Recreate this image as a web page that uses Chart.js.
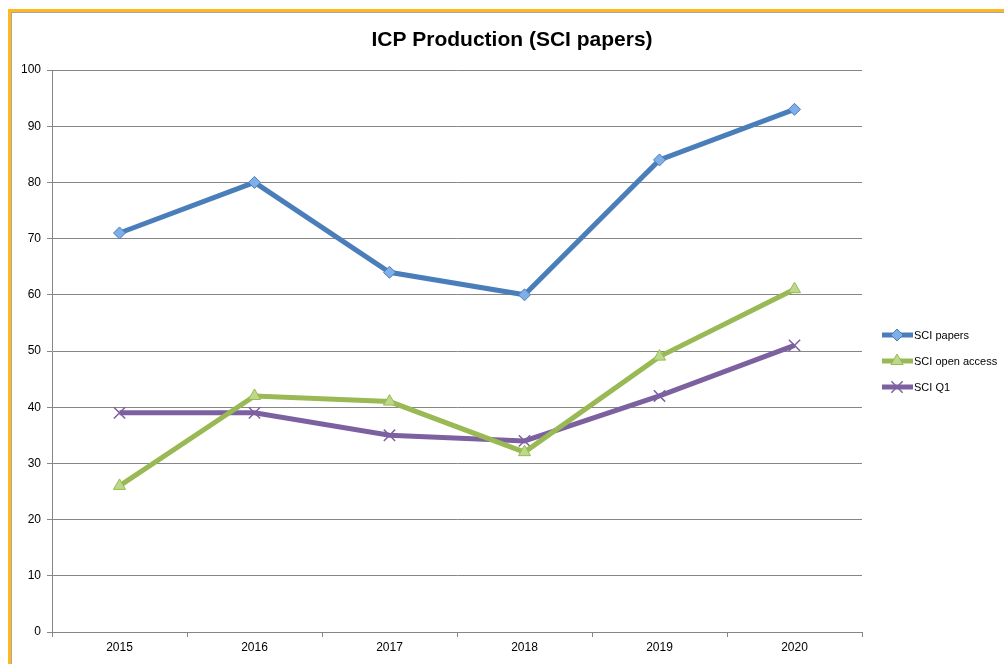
<!DOCTYPE html>
<html lang="en">
<head>
<meta charset="UTF-8">
<script src="https://cdn.jsdelivr.net/npm/chart.js@4.4.0/dist/chart.umd.min.js"></script>
<title>ICP Production (SCI papers)</title>
<style>
  html, body { margin: 0; padding: 0; background: #fff; overflow: hidden; }
  #frame {
    position: absolute; left: 8px; top: 9px; width: 1010px; height: 670px;
    border-left: 3px solid #ffb91d; border-top: 3px solid #ffb91d;
  }
  #inner {
    position: absolute; left: 0; top: 0; right: 0; bottom: 0;
    border-left: 1px solid #a6a6a6; border-top: 1px solid #a6a6a6;
  }
  #wrap { position: absolute; left: 0; top: 0; width: 1004px; height: 664px; }
</style>
</head>
<body>
<div id="frame"><div id="inner"></div></div>
<div id="wrap"><canvas id="myChart" width="1004" height="664"></canvas></div>
<script>
var title = "ICP Production (SCI papers)";
var years = ["2015", "2016", "2017", "2018", "2019", "2020"];
var sciPapers = [71, 80, 64, 60, 84, 93];
var sciOpenAccess = [26, 42, 41, 32, 49, 61];
var sciQ1 = [39, 39, 35, 34, 42, 51];
var seriesNames = ["SCI papers", "SCI open access", "SCI Q1"];

var FONT = "'Liberation Sans', Arial, sans-serif";

// title + legend drawn by hand, Excel style
var excelBits = {
  id: 'excelBits',
  afterDraw: function(chart) {
    var ctx = chart.ctx;
    ctx.save();
    ctx.fillStyle = '#000';
    ctx.font = 'bold 21px ' + FONT;
    ctx.textAlign = 'center';
    ctx.textBaseline = 'middle';
    ctx.fillText(title, 512, 40);

    ctx.font = '11px ' + FONT;
    ctx.textAlign = 'left';
    chart.data.datasets.forEach(function(ds, i) {
      var y = 335 + i * 26;
      ctx.strokeStyle = ds.borderColor;
      ctx.lineWidth = 5;
      ctx.beginPath();
      ctx.moveTo(882, y);
      ctx.lineTo(913, y);
      ctx.stroke();
      ctx.fillStyle = ds.pointBackgroundColor;
      ctx.strokeStyle = ds.pointBorderColor;
      ctx.lineWidth = ds.pointBorderWidth;
      Chart.helpers.drawPoint(ctx, {
        pointStyle: ds.pointStyle, rotation: 0, radius: ds.pointRadius,
        borderWidth: ds.pointBorderWidth
      }, 897, y);
      ctx.fillStyle = '#000';
      ctx.fillText(ds.label, 914, y + 1);
    });
    ctx.restore();
  }
};

var ctx = document.getElementById("myChart").getContext('2d');
var myChart = new Chart(ctx, {
  type: 'line',
  data: {
    labels: years,
    datasets: [{
      label: seriesNames[0],
      data: sciPapers,
      borderColor: '#4a7ebb',
      borderWidth: 5,
      pointStyle: 'rectRot',
      pointRadius: 6,
      pointBackgroundColor: '#7faee8',
      pointBorderColor: '#4a7ebb',
      pointBorderWidth: 1
    }, {
      label: seriesNames[1],
      data: sciOpenAccess,
      borderColor: '#98b954',
      borderWidth: 5,
      pointStyle: 'triangle',
      pointRadius: 7,
      pointBackgroundColor: '#bcd98a',
      pointBorderColor: '#98b954',
      pointBorderWidth: 1
    }, {
      label: seriesNames[2],
      data: sciQ1,
      borderColor: '#7d60a0',
      borderWidth: 5,
      pointStyle: 'crossRot',
      pointRadius: 8,
      pointBackgroundColor: '#7d60a0',
      pointBorderColor: '#7d60a0',
      pointBorderWidth: 1.5
    }]
  },
  options: {
    responsive: false,
    animation: false,
    layout: { padding: { top: 70, right: 142, left: 0, bottom: 0 } },
    plugins: {
      legend: { display: false },
      title: { display: false },
      tooltip: { enabled: false }
    },
    scales: {
      x: {
        offset: true,
        grid: {
          offset: true,
          drawOnChartArea: false,
          drawTicks: true,
          tickLength: 5,
          color: '#868686'
        },
        border: { color: '#868686', width: 1 },
        ticks: { color: '#000', font: { family: FONT, size: 12 }, padding: 3 },
        afterFit: function(s) { s.height = 32; }
      },
      y: {
        min: 0,
        max: 100,
        ticks: { stepSize: 10, color: '#000', font: { family: FONT, size: 12 }, padding: 6 },
        grid: { color: '#868686', tickLength: 5, lineWidth: 1 },
        border: { color: '#868686', width: 1 },
        afterFit: function(s) { s.width = 52; }
      }
    }
  },
  plugins: [excelBits]
});
</script>
</body>
</html>
